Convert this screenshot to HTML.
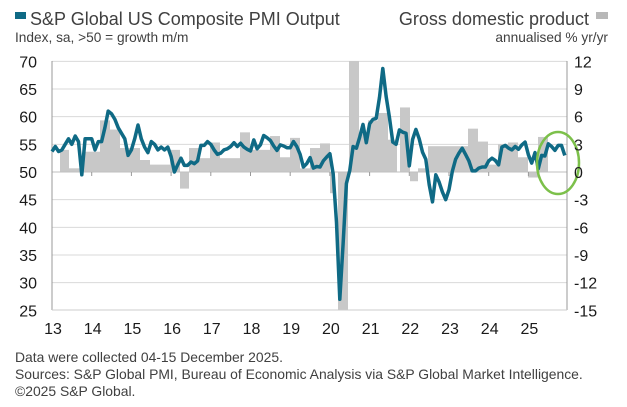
<!DOCTYPE html>
<html><head><meta charset="utf-8"><style>
body{margin:0;background:#fff;width:627px;height:407px;overflow:hidden;font-family:"Liberation Sans",sans-serif;}
svg{position:absolute;left:0;top:0}
</style></head><body>
<svg width="627" height="407" viewBox="0 0 627 407" xmlns="http://www.w3.org/2000/svg" font-family="Liberation Sans, sans-serif">
<rect x="15" y="12" width="11" height="7" fill="#0f6a85"/>
<text x="30" y="25" font-size="18" fill="#404040">S&amp;P Global US Composite PMI Output</text>
<text x="15" y="42" font-size="13.7" fill="#404040">Index, sa, &gt;50 = growth m/m</text>
<text x="589" y="25" font-size="18" fill="#404040" text-anchor="end">Gross domestic product</text>
<rect x="596" y="12" width="12" height="7" fill="#b8b8b8"/>
<text x="608" y="42" font-size="13.7" fill="#404040" text-anchor="end">annualised % yr/yr</text>
<g id="grid" stroke="#d9d9d9" stroke-width="1"></g>
<g id="bars" fill="#c8c8c8"></g>
<line x1="52" y1="172" x2="567" y2="172" stroke="#bfbfbf"/>
<g id="ticks" stroke="#999"></g>
<line x1="52" y1="61" x2="52" y2="310" stroke="#999"/>
<line x1="567" y1="61" x2="567" y2="310" stroke="#999"/>
<line x1="52" y1="310" x2="567" y2="310" stroke="#ccc"/>
<polyline id="pmi" fill="none" stroke="#0f6a85" stroke-width="3.5" stroke-linejoin="round"/>
<ellipse cx="558" cy="163" rx="21" ry="31" fill="none" stroke="#7cc04a" stroke-width="2.5"/>
<g id="labels" font-size="16" fill="#1a1a1a"></g>
<text x="15" y="362" font-size="13.9" fill="#404040">Data were collected 04-15 December 2025.</text>
<text x="15" y="379" font-size="13.9" fill="#404040">Sources: S&amp;P Global PMI, Bureau of Economic Analysis via S&amp;P Global Market Intelligence.</text>
<text x="15" y="396" font-size="13.9" fill="#404040">©2025 S&amp;P Global.</text>
</svg>
<script>
var NS="http://www.w3.org/2000/svg";
function el(t,a,p,txt){var e=document.createElementNS(NS,t);for(var k in a)e.setAttribute(k,a[k]);if(txt!=null)e.textContent=txt;document.getElementById(p).appendChild(e);}
function yP(v){return 172-(v-50)*5.533;}
function yG(g){return 172-g*9.222;}
for(var v=25;v<=70;v+=5){var y=yP(v);if(v!=50&&v!=25)el('line',{x1:52,x2:567,y1:y,y2:y},'grid');
el('text',{x:37,y:y+6,'text-anchor':'end'},'labels',v);
var g=(v-50)*0.6;el('text',{x:574,y:y+6},'labels',Math.round(g));}
var bars=[[60,69,2.4],[69,83,0.4],[83,100,2.2],[100,110,5.6],[110,120,4.6],[120,140,2.6],[140,150,1.3],[150,170,0.8],[170,180,2.4],[180,189,-1.8],[189,200,2.6],[200,210,1.5],[210,220,3.2],[220,230,1.5],[230,240,1.5],[240,250,4.3],[250,270,2.4],[270,280,3.9],[280,290,1.6],[290,300,3.7],[300,310,0.4],[310,320,2.6],[320,330,3.1],[330,335,-2.3],[338,348,-28],[349,359,34.8],[359,368,4.2],[368,378,5.6],[378,388,6.4],[388,397,3.5],[400,410,7.0],[410,418,-1],[418,428,0.4],[428,440,2.8],[440,458,2.8],[458,468,2.8],[468,478,4.7],[478,488,3.3],[488,498,0.8],[498,508,3.0],[508,518,3.2],[518,528,1.6],[528,538,-0.6],[538,548,3.8]];
bars.forEach(function(b){var y=Math.max(61,Math.min(310,yG(b[2])));var t=Math.min(y,172),h=Math.abs(y-172);el('rect',{x:b[0],y:t,width:b[1]-b[0],height:h},'bars');});
var d=[53.7,54.6,53.7,54,55,56,55,56.5,55.5,49.5,56,56,
56,54,55.5,55.5,58,61,60.5,59.5,58,57,56,53,
54,56,58.5,56,54.5,53.5,55.5,55,54,54.5,54,54.5,
52.8,50,51.3,52.5,51.2,51.2,51.8,51.5,52,54.8,54.8,55.5,
55,54,53.2,53.4,54,54.2,54.6,55.3,54.6,55.2,54.5,54.1,
53.8,55.8,54.2,54.9,56.6,56.2,55.7,54.7,53.9,54.9,54.7,54.4,
54.4,55.5,54.6,53.2,50.9,51.5,52.6,50.7,51,50.9,52,52.7,
53.3,49.6,40.9,27,37,47.9,50.3,54.6,54.3,56.3,58.6,55.3,
58.7,59.5,59.7,63.5,68.7,63.7,59.9,55.4,55,57.6,57.2,57,
51.1,55.9,57.7,56,53.6,52.3,47.7,44.6,49.5,48.2,46.4,45,
46.8,50.1,52.3,53.4,54.3,53.2,52,50.2,50.2,50.7,50.9,50.9,
52,52.5,52.1,51.3,54.5,54.8,54.3,54,54.6,54.1,54.9,55.4,
53.1,51.6,53.5,50.6,53,52.9,55.1,54.6,53.9,54.8,54.8,53];
var pts=d.map(function(v,i){return (52+i*39.7/12).toFixed(1)+','+yP(v).toFixed(1);}).join(' ');
document.getElementById('pmi').setAttribute('points',pts);
for(var k=0;k<13;k++){var x=52+k*39.7;if(k>0)el('line',{x1:x,x2:x,y1:172,y2:176},'ticks');
el('text',{x:x+1,y:334,'text-anchor':'middle'},'labels',13+k);}
</script>
</body></html>
